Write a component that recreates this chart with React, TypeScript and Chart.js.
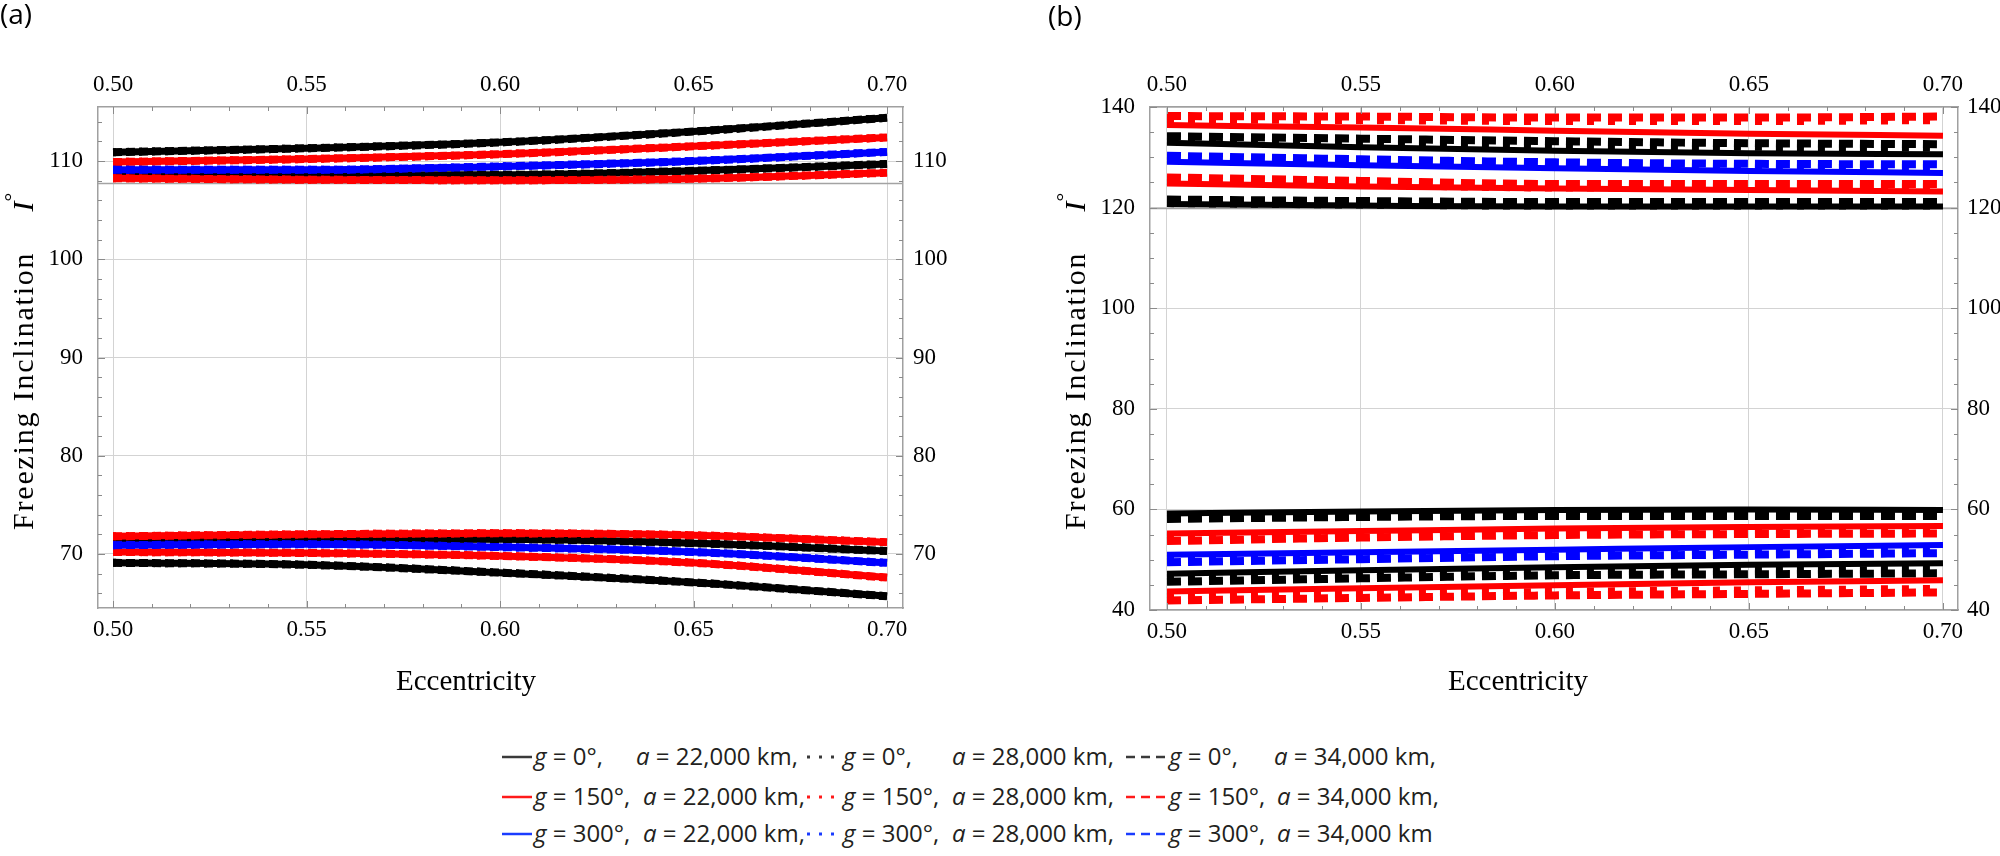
import React, { useEffect, useRef } from "react";
import { Chart, registerables } from "chart.js";

Chart.register(...registerables);

// ---------------- shared axis data ----------------
const eccentricity = [0.5, 0.55, 0.6, 0.65, 0.7];
const xTickValues = [0.5, 0.55, 0.6, 0.65, 0.7];
const yTicksA = [70, 80, 90, 100, 110];
const yTicksB = [40, 60, 80, 100, 120, 140];

// ---------------- panel (a) : freezing inclination (a=22000/28000/34000 coincide) ----------------
const a_g0_hi = [110.9, 111.3, 111.9, 113.0, 114.4];
const a_g150_hi = [109.9, 110.2, 110.7, 111.5, 112.4];
const a_g300_hi = [109.1, 109.1, 109.45, 110.0, 110.93];
const a_g0_mid = [108.8, 108.6, 108.6, 109.0, 109.7];
const a_g150_mid = [108.25, 108.1, 108.05, 108.2, 108.8];
const a_g150_lo2 = [71.8, 72.0, 72.1, 71.9, 71.2];
const a_g0_lo2 = [71.2, 71.4, 71.5, 71.1, 70.3];
const a_g300_lo = [70.9, 71.0, 70.7, 70.2, 69.1];
const a_g150_lo = [70.2, 70.1, 69.8, 69.1, 67.6];
const a_g0_lo = [69.1, 68.9, 68.1, 67.1, 65.7];
const a_axisLine = 107.8;

// ---------------- panel (b) ----------------
// upper group
const b_g150_u1_22 = [136.4, 135.9, 135.3, 134.7, 134.3];
const b_g150_u1_28 = [137.5, 137.4, 137.2, 137.2, 137.4];
const b_g150_u1_34 = [138.2, 138.1, 137.9, 137.9, 138.1];
const b_g0_u1_22 = [132.9, 132.0, 131.3, 130.8, 130.6];
const b_g0_u1_28 = [133.5, 133.0, 132.5, 132.1, 131.9];
const b_g0_u1_34 = [134.2, 133.7, 133.2, 132.8, 132.6];
const b_g300_u_22 = [129.1, 128.4, 127.8, 127.3, 126.9];
const b_g300_u_28 = [129.6, 128.9, 128.3, 128.0, 127.9];
const b_g300_u_34 = [130.3, 129.6, 129.0, 128.7, 128.6];
const b_g150_u2_22 = [124.8, 124.2, 123.8, 123.5, 123.2];
const b_g150_u2_28 = [125.3, 124.6, 124.0, 124.0, 124.0];
const b_g150_u2_34 = [126.0, 125.3, 124.7, 124.7, 124.7];
const b_g0_u2_22 = [120.7, 120.4, 120.2, 120.2, 120.2];
const b_g0_u2_28 = [120.9, 120.6, 120.4, 120.4, 120.4];
const b_g0_u2_34 = [121.6, 121.3, 121.1, 121.1, 121.1];
// lower group
const b_g0_l1_22 = [59.2, 59.6, 59.9, 60.0, 59.9];
const b_g0_l1_28 = [58.8, 59.2, 59.4, 59.4, 59.4];
const b_g0_l1_34 = [58.1, 58.5, 58.7, 58.7, 58.7];
const b_g150_l1_22 = [55.2, 55.7, 56.2, 56.5, 56.7];
const b_g150_l1_28 = [54.4, 55.1, 55.6, 55.8, 55.9];
const b_g150_l1_34 = [53.7, 54.4, 54.9, 55.1, 55.2];
const b_g300_l_22 = [51.0, 51.5, 52.0, 52.5, 52.9];
const b_g300_l_28 = [50.2, 50.8, 51.4, 51.7, 52.0];
const b_g300_l_34 = [49.5, 50.1, 50.7, 51.0, 51.3];
const b_g0_l2_22 = [47.2, 47.9, 48.5, 49.0, 49.3];
const b_g0_l2_28 = [46.3, 47.0, 47.6, 47.8, 48.0];
const b_g0_l2_34 = [45.6, 46.3, 46.9, 47.1, 47.3];
const b_g150_l2_22 = [43.7, 44.3, 44.9, 45.5, 45.9];
const b_g150_l2_28 = [42.6, 43.1, 43.6, 43.9, 44.2];
const b_g150_l2_34 = [41.9, 42.4, 42.9, 43.2, 43.5];
const b_axisLine = 120;

// ---------------- legend text ----------------
const legendG = ["0", "150", "300"];
const legendA = ["22,000", "28,000", "34,000"];

const BLACK = "#000000";
const RED = "#ff0000";
const BLUE = "#0000ff";

type Style = { solidW: number; dotW: number; dotDash: number[]; dashW: number; dashDash: number[] };
const styleA: Style = { solidW: 7, dotW: 8, dotDash: [3, 10], dashW: 8, dashDash: [9, 4] };
const styleB: Style = { solidW: 6, dotW: 8, dotDash: [7, 14], dashW: 8, dashDash: [14, 7] };

function pts(arr: number[]) {
  return eccentricity.map((x, i) => ({ x, y: arr[i] }));
}

function band(color: string, g: string, s22: number[], s28: number[], s34: number[], st: Style) {
  const common: any = {
    borderColor: color,
    backgroundColor: color,
    pointRadius: 0,
    fill: false,
    cubicInterpolationMode: "monotone",
    borderCapStyle: "butt",
    borderJoinStyle: "round",
    xAxisID: "x",
    yAxisID: "y",
  };
  return [
    { ...common, label: `g = ${g}°, a = 34,000 km`, data: pts(s34), borderWidth: st.dashW, borderDash: st.dashDash },
    { ...common, label: `g = ${g}°, a = 28,000 km`, data: pts(s28), borderWidth: st.dotW, borderDash: st.dotDash },
    { ...common, label: `g = ${g}°, a = 22,000 km`, data: pts(s22), borderWidth: st.solidW },
  ];
}

const datasetsA = [
  ...band(BLUE, "300", a_g300_hi, a_g300_hi, a_g300_hi, styleA),
  ...band(BLUE, "300", a_g300_lo, a_g300_lo, a_g300_lo, styleA),
  ...band(RED, "150", a_g150_hi, a_g150_hi, a_g150_hi, styleA),
  ...band(RED, "150", a_g150_mid, a_g150_mid, a_g150_mid, styleA),
  ...band(RED, "150", a_g150_lo2, a_g150_lo2, a_g150_lo2, styleA),
  ...band(RED, "150", a_g150_lo, a_g150_lo, a_g150_lo, styleA),
  ...band(BLACK, "0", a_g0_hi, a_g0_hi, a_g0_hi, styleA),
  ...band(BLACK, "0", a_g0_mid, a_g0_mid, a_g0_mid, styleA),
  ...band(BLACK, "0", a_g0_lo2, a_g0_lo2, a_g0_lo2, styleA),
  ...band(BLACK, "0", a_g0_lo, a_g0_lo, a_g0_lo, styleA),
];

const datasetsB = [
  ...band(BLUE, "300", b_g300_u_22, b_g300_u_28, b_g300_u_34, styleB),
  ...band(BLUE, "300", b_g300_l_22, b_g300_l_28, b_g300_l_34, styleB),
  ...band(RED, "150", b_g150_u1_22, b_g150_u1_28, b_g150_u1_34, styleB),
  ...band(RED, "150", b_g150_u2_22, b_g150_u2_28, b_g150_u2_34, styleB),
  ...band(RED, "150", b_g150_l1_22, b_g150_l1_28, b_g150_l1_34, styleB),
  ...band(RED, "150", b_g150_l2_22, b_g150_l2_28, b_g150_l2_34, styleB),
  ...band(BLACK, "0", b_g0_u1_22, b_g0_u1_28, b_g0_u1_34, styleB),
  ...band(BLACK, "0", b_g0_u2_22, b_g0_u2_28, b_g0_u2_34, styleB),
  ...band(BLACK, "0", b_g0_l1_22, b_g0_l1_28, b_g0_l1_34, styleB),
  ...band(BLACK, "0", b_g0_l2_22, b_g0_l2_28, b_g0_l2_34, styleB),
];

type PanelCfg = {
  xMin: number; xMax: number; yMin: number; yMax: number;
  yTicks: number[];
  leftW: number; rightW: number; topH: number; bottomH: number;
  leftPad: number; rightPad: number;
  deco: any;
};

const SERIF = "'Liberation Serif', 'Times New Roman', serif";

const decoPlugin: any = {
  id: "deco",
  beforeDatasetsDraw(chart: any, _a: any, o: any) {
    const { ctx, chartArea: ca } = chart;
    const y = Math.round(chart.scales.y.getPixelForValue(o.refLine)) + 0.5;
    ctx.save();
    ctx.strokeStyle = "#a3a3a3";
    ctx.lineWidth = 1.6;
    ctx.beginPath();
    ctx.moveTo(ca.left, y);
    ctx.lineTo(ca.right, y);
    ctx.stroke();
    ctx.restore();
  },
  afterDraw(chart: any, _a: any, o: any) {
    const { ctx, chartArea: ca, scales } = chart;
    ctx.save();
    ctx.strokeStyle = "#8a8a8a";
    ctx.lineWidth = 1;
    ctx.beginPath();
    for (let i = 50; i <= 70; i++) {
      const px = Math.round(scales.x.getPixelForValue(i / 100)) + 0.5;
      const len = i % 5 === 0 ? 7 : 4;
      ctx.moveTo(px, ca.top);
      ctx.lineTo(px, ca.top + len);
      ctx.moveTo(px, ca.bottom);
      ctx.lineTo(px, ca.bottom - len);
    }
    for (let v = o.yMinorStart; v <= o.yMinorEnd + 1e-9; v += o.yMinorStep) {
      const py = Math.round(scales.y.getPixelForValue(v)) + 0.5;
      const len = v % o.yMajorStep === 0 ? 7 : 4;
      ctx.moveTo(ca.left, py);
      ctx.lineTo(ca.left + len, py);
      ctx.moveTo(ca.right, py);
      ctx.lineTo(ca.right - len, py);
    }
    ctx.stroke();

    ctx.fillStyle = "#000";
    ctx.font = `29px ${SERIF}`;
    ctx.textAlign = "center";
    ctx.textBaseline = "middle";
    ctx.fillText("Eccentricity", o.xTitleX, o.xTitleY);

    ctx.save();
    ctx.translate(o.yTitleX, o.yTitleY);
    ctx.rotate(-Math.PI / 2);
    ctx.textAlign = "left";
    ctx.textBaseline = "alphabetic";
    ctx.font = `30px ${SERIF}`;
    (ctx as any).letterSpacing = "1.8px";
    const t = "Freezing Inclination";
    ctx.fillText(t, 0, 0);
    const w = ctx.measureText(t).width;
    (ctx as any).letterSpacing = "0px";
    ctx.font = `italic 30px ${SERIF}`;
    ctx.fillText("I", w + 40, 0);
    ctx.font = `22px ${SERIF}`;
    ctx.fillText("°", w + 50, -14);
    ctx.restore();

    ctx.font = "28px 'Open Sans', sans-serif";
    ctx.textAlign = "left";
    ctx.textBaseline = "top";
    ctx.fillText(o.label, o.labelX, o.labelY);
    ctx.restore();
  },
};

function buildOptions(p: PanelCfg) {
  const font = { family: SERIF, size: 23 };
  const fit = (size: number) => (scale: any) => {
    if (scale.isHorizontal()) scale.height = size;
    else scale.width = size;
  };
  const xTicks = (s: any) => {
    s.ticks = xTickValues.map((v) => ({ value: v }));
  };
  const yTicks = (s: any) => {
    s.ticks = p.yTicks.map((v) => ({ value: v }));
  };
  const border = { color: "#a0a0a0", width: 1.5 };
  const xTickOpts = { font, color: "#000", padding: 8, maxRotation: 0, autoSkip: false, callback: (v: any) => Number(v).toFixed(2) };
  return {
    responsive: false,
    animation: false,
    events: [],
    layout: { padding: 0 },
    plugins: { legend: { display: false }, tooltip: { enabled: false }, deco: p.deco },
    scales: {
      x: {
        type: "linear", position: "bottom", min: p.xMin, max: p.xMax,
        afterBuildTicks: xTicks, afterFit: fit(p.bottomH),
        ticks: xTickOpts,
        grid: { color: "#d3d3d3", lineWidth: 1, drawTicks: false },
        border,
      },
      x2: {
        type: "linear", position: "top", min: p.xMin, max: p.xMax,
        afterBuildTicks: xTicks, afterFit: fit(p.topH),
        ticks: xTickOpts,
        grid: { drawOnChartArea: false, drawTicks: false },
        border,
      },
      y: {
        type: "linear", position: "left", min: p.yMin, max: p.yMax,
        afterBuildTicks: yTicks, afterFit: fit(p.leftW),
        ticks: { font, color: "#000", padding: p.leftPad, autoSkip: false, callback: (v: any) => String(v) },
        grid: { color: "#d3d3d3", lineWidth: 1, drawTicks: false },
        border,
      },
      y2: {
        type: "linear", position: "right", min: p.yMin, max: p.yMax,
        afterBuildTicks: yTicks, afterFit: fit(p.rightW),
        ticks: { font, color: "#000", padding: p.rightPad, autoSkip: false, callback: (v: any) => String(v) },
        grid: { drawOnChartArea: false, drawTicks: false },
        border,
      },
    },
  };
}

const panelA: PanelCfg = {
  xMin: 0.49612, xMax: 0.70413, yMin: 64.5, yMax: 115.5,
  yTicks: yTicksA,
  leftW: 98, rightW: 97, topH: 107, bottomH: 112, leftPad: 15, rightPad: 10,
  deco: {
    refLine: a_axisLine, yMinorStart: 66, yMinorEnd: 114, yMinorStep: 2, yMajorStep: 10,
    xTitleX: 466, xTitleY: 682, yTitleX: 33, yTitleY: 530, label: "(a)", labelX: 0, labelY: 2,
  },
};

const panelB: PanelCfg = {
  xMin: 0.49562, xMax: 0.70387, yMin: 40, yMax: 140,
  yTicks: yTicksB,
  leftW: 150, rightW: 42, topH: 107, bottomH: 110, leftPad: 15, rightPad: 9,
  deco: {
    refLine: b_axisLine, yMinorStart: 40, yMinorEnd: 140, yMinorStep: 5, yMajorStep: 20,
    xTitleX: 518, xTitleY: 682, yTitleX: 85, yTitleY: 530, label: "(b)", labelX: 48, labelY: 4,
  },
};

function Panel({ cfg, datasets, left }: { cfg: PanelCfg; datasets: any[]; left: number }) {
  const ref = useRef<HTMLCanvasElement | null>(null);
  useEffect(() => {
    if (!ref.current) return;
    const chart = new Chart(ref.current, {
      type: "line",
      data: { datasets },
      options: buildOptions(cfg) as any,
      plugins: [decoPlugin],
    } as any);
    return () => chart.destroy();
  }, []);
  return (
    <canvas
      ref={ref}
      width={1000}
      height={720}
      style={{ position: "absolute", left, top: 0, width: 1000, height: 720 }}
    />
  );
}

const legendColors = ["#3a3a3a", "#ff1a1a", "#1a3cff"];
const rowY = [757, 797, 834];
const symX = [502, 805, 1126];
const symW = [30, 36, 40];
const gX = [534, 843, 1169];
const aX = [
  [636, 952, 1274],
  [643, 952, 1277],
  [643, 952, 1277],
];

function Symbol({ kind, color, width }: { kind: number; color: string; width: number }) {
  const dash = kind === 1 ? "3 9" : kind === 2 ? "9 6" : undefined;
  return (
    <svg width={width} height={10} style={{ display: "block" }}>
      <line x1={kind === 1 ? 2 : 0} y1={5} x2={width} y2={5} stroke={color} strokeWidth={kind === 1 ? 3 : 2.5} strokeDasharray={dash} />
    </svg>
  );
}

function Legend() {
  const txt: React.CSSProperties = {
    position: "absolute",
    fontFamily: "'Open Sans', sans-serif",
    fontSize: 24,
    lineHeight: "32px",
    height: 32,
    color: "#231f20",
    whiteSpace: "pre",
  };
  const items: any[] = [];
  for (let r = 0; r < 3; r++) {
    for (let c = 0; c < 3; c++) {
      const last = r === 2 && c === 2;
      items.push(
        <div key={`s${r}${c}`} style={{ position: "absolute", left: symX[c], top: rowY[r] - 5 }}>
          <Symbol kind={c} color={legendColors[r]} width={symW[c]} />
        </div>
      );
      items.push(
        <div key={`g${r}${c}`} style={{ ...txt, left: gX[c], top: rowY[r] - 17 }}>
          <i>g</i>{` = ${legendG[r]}°,`}
        </div>
      );
      items.push(
        <div key={`a${r}${c}`} style={{ ...txt, left: aX[r][c], top: rowY[r] - 17 }}>
          <i>a</i>{` = ${legendA[c]} km${last ? "" : ","}`}
        </div>
      );
    }
  }
  return <>{items}</>;
}

export default function App() {
  return (
    <div style={{ position: "absolute", left: 0, top: 0, width: 2000, height: 856, background: "#fff", overflow: "hidden" }}>
      <Panel cfg={panelA} datasets={datasetsA} left={0} />
      <Panel cfg={panelB} datasets={datasetsB} left={1000} />
      <Legend />
    </div>
  );
}
